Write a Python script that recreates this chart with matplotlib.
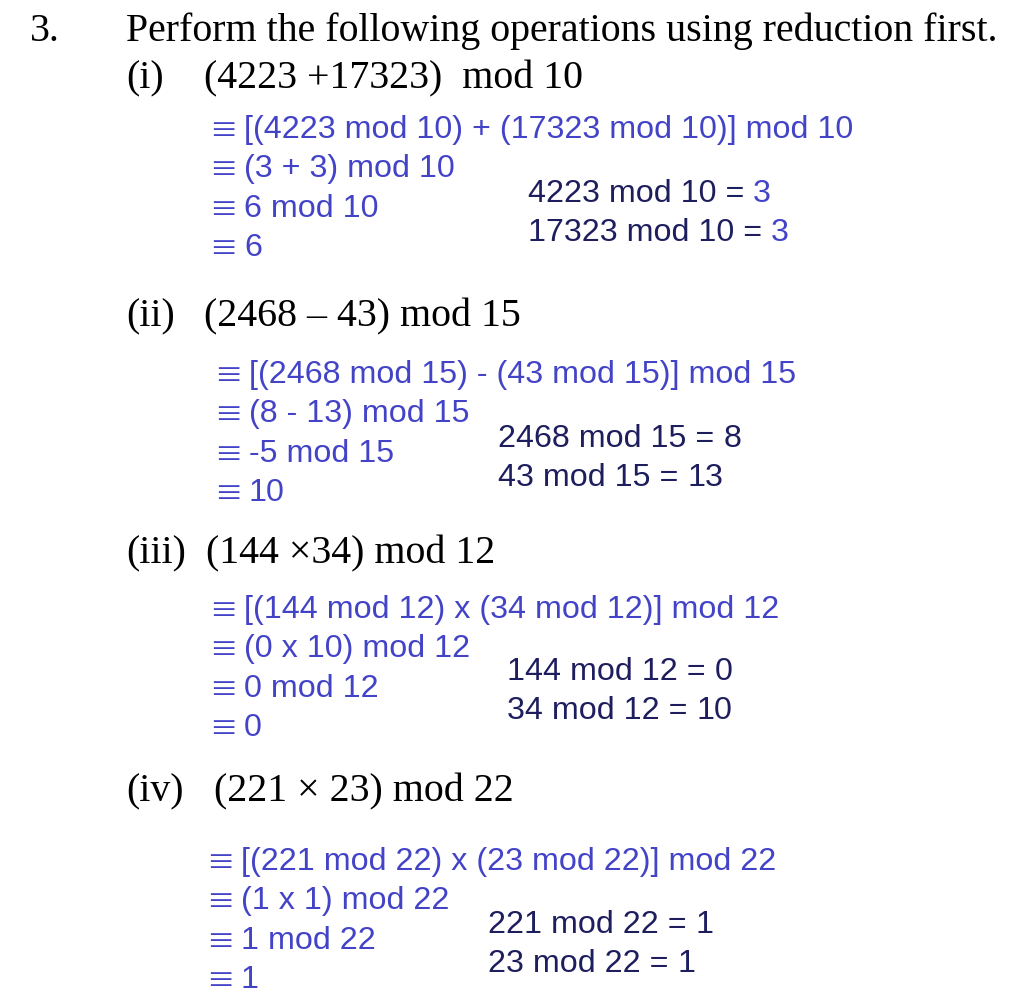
import matplotlib.pyplot as plt

# text content
question_no = "3."
question = "Perform the following operations using reduction first."
part_labels = ["(i)", "(ii)", "(iii)", "(iv)"]
part_exprs = ["(4223 +17323)  mod 10", "(2468 \u2013 43) mod 15",
              "(144 \u00d734) mod 12", "(221 \u00d7 23) mod 22"]
steps = [
    ["[(4223 mod 10) + (17323 mod 10)] mod 10", "(3 + 3) mod 10", "6 mod 10", "6"],
    ["[(2468 mod 15) - (43 mod 15)] mod 15", "(8 - 13) mod 15", "-5 mod 15", "10"],
    ["[(144 mod 12) x (34 mod 12)] mod 12", "(0 x 10) mod 12", "0 mod 12", "0"],
    ["[(221 mod 22) x (23 mod 22)] mod 22", "(1 x 1) mod 22", "1 mod 22", "1"],
]
note_lhs = [
    ["4223 mod 10 =", "17323 mod 10 ="],
    ["2468 mod 15 =", "43 mod 15 ="],
    ["144 mod 12 =", "34 mod 12 ="],
    ["221 mod 22 =", "23 mod 22 ="],
]
note_rhs = [["3", "3"], ["8", "13"], ["0", "10"], ["1", "1"]]
rhs_blue = [True, False, False, False]

# layout (pixels, baseline positions)
title_y = 41
head_y = [88, 326, 563, 801]
expr_x = [204, 204, 206, 214]
step_x = [212, 217, 212, 209]
step_y0 = [138, 383, 618, 870]
note_x = [528, 498, 507, 488]
note_y0 = [202, 447, 680, 933]
line_gap = 39.3
equiv_gap = 32

blue = '#4343c8'
navy = '#1e1e5e'
serif = ['Liberation Serif', 'DejaVu Serif']
sans = ['Liberation Sans', 'DejaVu Sans']
serif_size = 28.7
sans_size = 23.2

fig = plt.figure(figsize=(10.2, 10.06), dpi=100)
ax = fig.add_axes([0, 0, 1, 1])
ax.set_xlim(0, 1020)
ax.set_ylim(1006, 0)
ax.axis('off')

ax.text(30, title_y, question_no, family=serif, fontsize=serif_size, va='baseline')
ax.text(126, title_y, question, family=serif, fontsize=serif_size, va='baseline')

for i in range(len(part_labels)):
    ax.text(126, head_y[i], part_labels[i], family=serif, fontsize=serif_size, va='baseline')
    ax.text(expr_x[i], head_y[i], part_exprs[i], family=serif, fontsize=serif_size, va='baseline')

    for j, s in enumerate(steps[i]):
        y = step_y0[i] + j * line_gap
        # equivalence sign, drawn a bit lighter than the step text
        ax.text(step_x[i] - 3, y + 2, "\u2261", family=['Noto Sans CJK JP', 'DejaVu Sans'],
                fontsize=sans_size * 0.88, color=blue, va='baseline')
        ax.text(step_x[i] + equiv_gap, y, s, family=sans,
                fontsize=sans_size, color=blue, va='baseline')

    for j in range(len(note_lhs[i])):
        t = ax.text(note_x[i], note_y0[i] + j * line_gap, note_lhs[i][j], family=sans,
                    fontsize=sans_size, color=navy, va='baseline')
        ax.annotate(note_rhs[i][j], xy=(1, 0), xycoords=t, xytext=(6.4, 0),
                    textcoords='offset points', family=sans, fontsize=sans_size,
                    color=blue if rhs_blue[i] else navy, va='bottom')

fig.savefig('out.png', dpi=100)
